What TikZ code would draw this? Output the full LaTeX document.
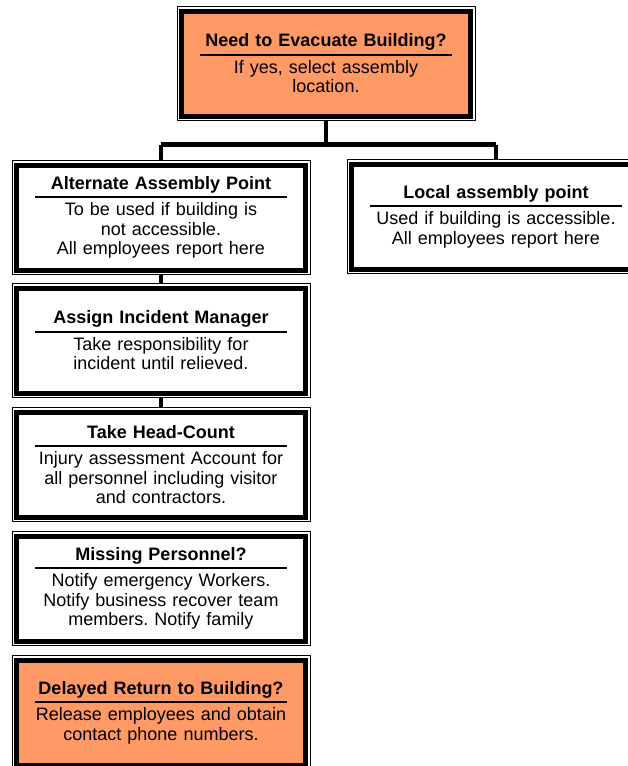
\documentclass[tikz,border=0pt]{standalone}
\usepackage{fontspec}
\setmainfont{Liberation Sans}
\frenchspacing
\definecolor{evacorange}{HTML}{FF9966}
% heading, rule under it, then the body lines
\newcommand{\boxlines}[2]{\textbf{#1}\rule[-4.5pt]{0pt}{0pt}\par
  \vskip2.5pt\hrule height 2pt\prevdepth=0pt\vskip-2pt
  #2}
\begin{document}
\begin{tikzpicture}[x=1pt,y=-1pt,
    stepbox/.style={draw, line width=5pt, fill=white, inner sep=0pt, outer sep=4.5pt,
      minimum width=289pt, minimum height=105pt, text width=252pt, align=center,
      font=\fontsize{18pt}{19.5pt}\selectfont},
    alertbox/.style={stepbox, fill=evacorange},
    thinframe/.style={draw, line width=0.9pt},
    link/.style={line width=3.5pt},
    bar/.style={line width=5pt}]
  \useasboundingbox (0,0) rectangle (628,766);
  \node[alertbox] (evac) at (326,63.5)
    {\boxlines{Need to Evacuate Building?}{If yes, select assembly\\location.}};
  \node[stepbox] (alt) at (161,217.5)
    {\boxlines{Alternate Assembly Point}{To be used if building is\\not accessible.\\All employees report here}};
  \node[stepbox] (local) at (496,216.5)
    {\boxlines{Local assembly point}{Used if building is accessible.\\All employees report here}};
  \node[stepbox] (assign) at (161,340.5)
    {\boxlines{Assign Incident Manager}{Take responsibility for\\incident until relieved.}};
  \node[stepbox] (count) at (161,464.5)
    {\boxlines{Take Head-Count}{Injury assessment Account for\\all personnel including visitor\\and contractors.}};
  \node[stepbox] (missing) at (161,588.5)
    {\boxlines{Missing Personnel?}{Notify emergency Workers.\\Notify business recover team\\members. Notify family}};
  \node[alertbox] (delayed) at (161,712.5)
    {\boxlines{Delayed Return to Building?}{Release employees and obtain\\contact phone numbers.}};
  % thin outer frames
  \foreach \n in {evac,alt,local,assign,count,missing,delayed}
    \draw[thinframe] (\n.north west) rectangle (\n.south east);
  % connectors
  \draw[link] (evac.south) -- ++(0,24) coordinate (split);
  \draw[bar] (alt.north |- split) -- (local.north |- split);
  \draw[link] (alt.north |- split) -- (alt.north);
  \draw[link] (local.north |- split) -- (local.north);
  \draw[link] (alt.south) -- (assign.north);
  \draw[link] (assign.south) -- (count.north);
\end{tikzpicture}
\end{document}
